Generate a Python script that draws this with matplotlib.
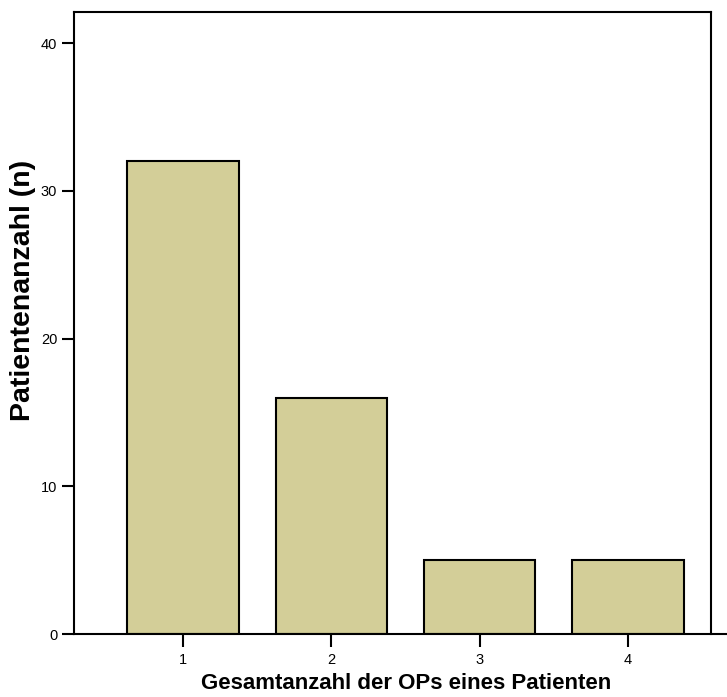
import matplotlib
matplotlib.use("Agg")
import matplotlib.pyplot as plt

# data
op_counts = [1, 2, 3, 4]
patients = [32, 16, 5, 5]
y_ticks = [0, 10, 20, 30, 40]

bar_color = '#D3CE98'
plt.rcParams['font.family'] = ['Liberation Sans', 'DejaVu Sans']

fig = plt.figure(figsize=(7.27, 6.97), dpi=100)
ax = fig.add_axes([74 / 727, 63 / 697, 653 / 727, 622 / 697])

ax.bar(op_counts, patients, width=0.75, color=bar_color,
       edgecolor='black', linewidth=1.5, zorder=2)

ax.set_xlim(0.265, 4.667)
ax.set_ylim(0, 42.1)
ax.set_xticks(op_counts)
ax.set_yticks(y_ticks)

for side in ['top', 'right']:
    ax.spines[side].set_visible(False)
for side in ['left', 'bottom']:
    ax.spines[side].set_linewidth(1.5)

# frame: top edge and right edge end before the x axis line does
frame_x = 4.56
ax.plot([0.265, frame_x], [42.1, 42.1], color='black', lw=1.5, clip_on=False)
ax.plot([frame_x, frame_x], [0, 42.1], color='black', lw=1.5, clip_on=False)

ax.tick_params(axis='both', length=9, width=1.5, labelsize=10.5, pad=3)
ax.tick_params(axis='x', pad=5)

ax.set_ylabel('Patientenanzahl (n)', fontsize=20.5, fontweight='bold')
ax.yaxis.set_label_coords(-0.058, 0.553)
ax.set_xlabel('Gesamtanzahl der OPs eines Patienten', fontsize=16, fontweight='bold')
ax.xaxis.set_label_coords(0.508, -0.063)

fig.savefig('out.png', dpi=100)
